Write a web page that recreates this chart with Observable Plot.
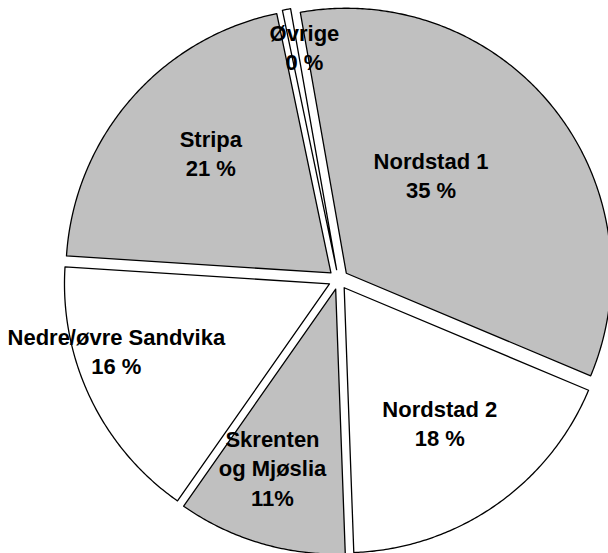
<!DOCTYPE html>
<html><head><meta charset="utf-8">
<script src="https://cdn.jsdelivr.net/npm/d3@7"></script>
<script src="https://cdn.jsdelivr.net/npm/@observablehq/plot@0.6"></script>
<style>body{margin:0;background:#fff} #chart svg{overflow:hidden;display:block}</style>
</head><body><div id="chart"></div>
<script>
// ---- data ----
const names = ["Nordstad 1", "Nordstad 2", "Skrenten\nog Mjøslia", "Nedre/øvre Sandvika", "Stripa", "Øvrige"];
const shares = [34.1, 18.1, 10.3, 16.3, 20.7, 0.5];
const percentLabels = ["35 %", "18 %", "11%", "16 %", "21 %", "0 %"];
const fills = ["#c0c0c0", "#ffffff", "#c0c0c0", "#ffffff", "#c0c0c0", "#ffffff"];

// ---- layout ----
const W = 608, H = 553;
const CX = 338, CY = 279, R = 265, EXPLODE = 10, START = -10; // degrees, clockwise from top
const labelAngle = [41.2, 144.6, 199.4, 252.3, 314.9, 351.7];
const labelRadius = [0.53, 0.66, 0.75, 0.88, 0.68, 0.89];

const rad = d => d * Math.PI / 180;
const total = d3.sum(shares);
let acc = START;
const slicePts = [];
const labels = [];
shares.forEach((v, i) => {
  const a0 = acc, a1 = acc + v / total * 360;
  acc = a1;
  const mid = (a0 + a1) / 2;
  const vx = CX + EXPLODE * Math.sin(rad(mid));
  const vy = CY - EXPLODE * Math.cos(rad(mid));
  slicePts.push({name: names[i], fill: fills[i], x: vx, y: vy});
  const n = Math.max(2, Math.ceil((a1 - a0) / 0.5));
  for (let k = 0; k <= n; k++) {
    const t = a0 + (a1 - a0) * k / n;
    slicePts.push({name: names[i], fill: fills[i], x: vx + R * Math.sin(rad(t)), y: vy - R * Math.cos(rad(t))});
  }
  labels.push({
    text: names[i] + "\n" + percentLabels[i],
    x: CX + labelRadius[i] * R * Math.sin(rad(labelAngle[i])),
    y: CY - labelRadius[i] * R * Math.cos(rad(labelAngle[i]))
  });
});

const chart = Plot.plot({
  width: W, height: H,
  margin: 0,
  x: {domain: [0, W], range: [0, W], axis: null},
  y: {domain: [0, H], range: [0, H], axis: null},
  color: {type: "identity"},
  style: {background: "#fff"},
  marks: [
    Plot.line(slicePts, {x: "x", y: "y", z: "name", fill: "fill", stroke: "#000", strokeWidth: 1.3, curve: "linear-closed"}),
    Plot.text(labels, {x: "x", y: "y", text: "text", fontFamily: "Liberation Sans, Arial, sans-serif", fontWeight: "bold", fontSize: 22, lineHeight: 1.33, fill: "#000"})
  ]
});
document.getElementById("chart").appendChild(chart);
</script>
</body></html>
